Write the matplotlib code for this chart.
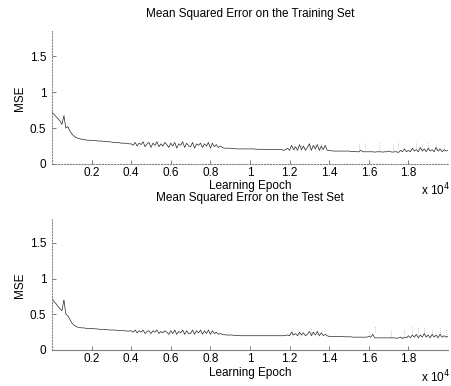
#!/usr/bin/env python3

import numpy as np
import matplotlib
matplotlib.use('Agg')
import matplotlib.pyplot as plt

# MSE sampled every 100 epochs, 0..20000 (one row = 1000 epochs)
train_mse = [
    0.72, 0.69, 0.66, 0.63, 0.60, 0.55, 0.67, 0.50, 0.52, 0.46,
    0.42, 0.39, 0.37, 0.36, 0.35, 0.345, 0.34, 0.335, 0.33, 0.33,
    0.33, 0.325, 0.325, 0.32, 0.32, 0.32, 0.315, 0.31, 0.31, 0.31,
    0.305, 0.30, 0.30, 0.30, 0.295, 0.29, 0.29, 0.29, 0.285, 0.28,
    0.28, 0.26, 0.30, 0.25, 0.29, 0.27, 0.31, 0.24, 0.28, 0.30,
    0.23, 0.29, 0.26, 0.31, 0.24, 0.28, 0.25, 0.30, 0.27, 0.23,
    0.29, 0.25, 0.30, 0.22, 0.28, 0.26, 0.31, 0.23, 0.29, 0.25,
    0.24, 0.30, 0.22, 0.28, 0.26, 0.29, 0.23, 0.28, 0.25, 0.30,
    0.22, 0.29, 0.24, 0.27, 0.23, 0.25, 0.23, 0.22, 0.22, 0.22,
    0.22, 0.215, 0.215, 0.21, 0.21, 0.21, 0.21, 0.21, 0.21, 0.21,
    0.21, 0.21, 0.21, 0.205, 0.205, 0.205, 0.205, 0.20, 0.20, 0.20,
    0.20, 0.20, 0.20, 0.20, 0.20, 0.20, 0.20, 0.19, 0.20, 0.22,
    0.19, 0.26, 0.20, 0.24, 0.19, 0.27, 0.20, 0.25, 0.19, 0.23,
    0.28, 0.19, 0.26, 0.21, 0.27, 0.19, 0.25, 0.20, 0.26, 0.19,
    0.19, 0.185, 0.18, 0.18, 0.18, 0.18, 0.18, 0.18, 0.18, 0.18,
    0.18, 0.175, 0.175, 0.175, 0.17, 0.17, 0.19, 0.17, 0.17, 0.17,
    0.17, 0.17, 0.17, 0.165, 0.17, 0.17, 0.17, 0.165, 0.17, 0.17,
    0.18, 0.17, 0.165, 0.17, 0.17, 0.16, 0.19, 0.17, 0.21, 0.17,
    0.19, 0.17, 0.22, 0.18, 0.20, 0.17, 0.23, 0.18, 0.21, 0.17,
    0.22, 0.18, 0.20, 0.17, 0.23, 0.18, 0.21, 0.17, 0.20, 0.18,
    0.19,
]
test_mse = [
    0.72, 0.68, 0.65, 0.61, 0.58, 0.55, 0.70, 0.50, 0.48, 0.43,
    0.38, 0.35, 0.33, 0.32, 0.315, 0.31, 0.31, 0.305, 0.30, 0.30,
    0.30, 0.30, 0.295, 0.295, 0.29, 0.29, 0.29, 0.285, 0.285, 0.28,
    0.28, 0.28, 0.28, 0.275, 0.275, 0.27, 0.27, 0.27, 0.265, 0.265,
    0.27, 0.25, 0.28, 0.24, 0.27, 0.25, 0.28, 0.23, 0.26, 0.27,
    0.23, 0.27, 0.25, 0.28, 0.23, 0.26, 0.24, 0.27, 0.25, 0.22,
    0.27, 0.23, 0.28, 0.22, 0.26, 0.24, 0.28, 0.22, 0.27, 0.23,
    0.23, 0.28, 0.22, 0.27, 0.24, 0.28, 0.22, 0.27, 0.23, 0.28,
    0.22, 0.27, 0.23, 0.25, 0.22, 0.23, 0.22, 0.215, 0.21, 0.21,
    0.21, 0.21, 0.205, 0.205, 0.205, 0.20, 0.20, 0.20, 0.20, 0.20,
    0.20, 0.20, 0.20, 0.20, 0.20, 0.20, 0.20, 0.20, 0.20, 0.20,
    0.20, 0.20, 0.20, 0.20, 0.20, 0.20, 0.20, 0.20, 0.205, 0.21,
    0.20, 0.25, 0.21, 0.23, 0.20, 0.25, 0.21, 0.24, 0.20, 0.22,
    0.26, 0.20, 0.25, 0.21, 0.26, 0.20, 0.24, 0.20, 0.22, 0.20,
    0.19, 0.19, 0.19, 0.19, 0.19, 0.19, 0.19, 0.19, 0.185, 0.185,
    0.185, 0.185, 0.18, 0.18, 0.18, 0.18, 0.18, 0.18, 0.18, 0.18,
    0.19, 0.18, 0.22, 0.17, 0.17, 0.17, 0.17, 0.17, 0.17, 0.17,
    0.17, 0.17, 0.17, 0.17, 0.165, 0.17, 0.18, 0.16, 0.18, 0.17,
    0.20, 0.17, 0.21, 0.18, 0.22, 0.17, 0.21, 0.18, 0.23, 0.18,
    0.21, 0.17, 0.22, 0.18, 0.21, 0.17, 0.22, 0.18, 0.20, 0.18,
    0.19,
]
epochs = np.arange(0, 20001, 100)

# faint vertical spikes (epoch, peak MSE)
train_spike_x = [600, 12200, 12600, 13000, 13300, 13600, 15500, 15800,
                 16500, 17200, 17500, 18400, 18700, 19000, 19400, 19800]
train_spike_y = [0.70, 0.28, 0.27, 0.29, 0.28, 0.28, 0.28, 0.30,
                 0.29, 0.28, 0.30, 0.30, 0.27, 0.29, 0.28, 0.26]
test_spike_x = [600, 12100, 12500, 13100, 13400, 16000, 16300, 17100,
                17800, 18200, 18500, 18800, 19200, 19600, 19900]
test_spike_y = [0.72, 0.28, 0.27, 0.29, 0.28, 0.28, 0.34, 0.28,
                0.30, 0.32, 0.33, 0.31, 0.30, 0.31, 0.28]

xticks = [2000, 4000, 6000, 8000, 10000, 12000, 14000, 16000, 18000]
xtick_labels = ['0.2', '0.4', '0.6', '0.8', '1', '1.2', '1.4', '1.6', '1.8']
yticks = [0, 0.5, 1, 1.5]
ytick_labels = ['0', '0.5', '1', '1.5']

plt.rcParams['font.family'] = ['Liberation Sans', 'DejaVu Sans']
FS = 8.5

W, H = 452, 386
fig = plt.figure(figsize=(W / 100, H / 100), dpi=100)


def _draw_panel(rect, values, spike_x, spike_y, title, title_y, xlabel_y,
                exp_y, mse_y, bottom_style):
    ax = fig.add_axes(rect)
    ax.vlines(spike_x, [v - 0.08 for v in spike_y], spike_y,
              color='0.6', linewidth=0.5, linestyles=':')
    ax.plot(epochs, values, color='0.15', linewidth=0.5)
    ax.set_xlim(0, 20000)
    ax.set_ylim(0, 1.85)
    ax.set_xticks(xticks)
    ax.set_xticklabels(xtick_labels)
    ax.set_yticks(yticks)
    ax.set_yticklabels(ytick_labels)
    ax.tick_params(direction='in', length=3, width=0.6, color='0.4',
                   labelsize=FS)
    ax.tick_params(axis='x', pad=2.5)
    ax.tick_params(axis='y', pad=4)
    ax.spines['top'].set_visible(False)
    ax.spines['right'].set_visible(False)
    ax.spines['left'].set_color('0.55')
    ax.spines['left'].set_linestyle(':')
    ax.spines['left'].set_linewidth(0.8)
    ax.spines['bottom'].set_color('0.5')
    ax.spines['bottom'].set_linestyle(bottom_style)
    ax.spines['bottom'].set_linewidth(0.8)
    cx = (rect[0] + rect[0] + rect[2]) / 2
    fig.text(cx, 1 - title_y / H, title, ha='center', va='center', fontsize=FS)
    fig.text(cx, 1 - xlabel_y / H, 'Learning Epoch', ha='center', va='center',
             fontsize=FS)
    fig.text(450 / W, 1 - exp_y / H, r'x 10$^4$', ha='right', va='center',
             fontsize=FS)
    fig.text(20 / W, 1 - mse_y / H, 'MSE', ha='center', va='center',
             rotation=90, fontsize=FS)
    return ax


left = 52 / W
width = 396 / W
_draw_panel([left, 1 - 164 / H, width, 133 / H], train_mse,
            train_spike_x, train_spike_y,
            'Mean Squared Error on the Training Set', 14, 186, 190, 98, ':')
_draw_panel([left, 1 - 350 / H, width, 132 / H], test_mse,
            test_spike_x, test_spike_y,
            'Mean Squared Error on the Test Set', 198, 373, 377, 285, '-')

fig.savefig('out.png', dpi=100)
